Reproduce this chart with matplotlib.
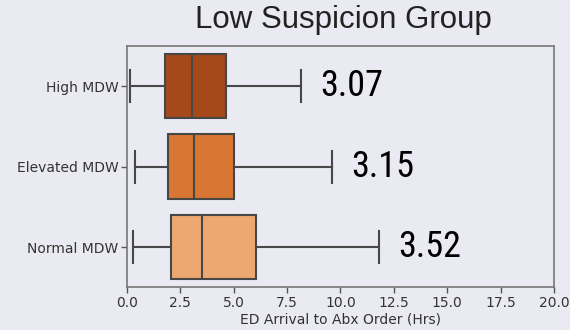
import matplotlib
matplotlib.use("Agg")
import matplotlib.pyplot as plt
from matplotlib import font_manager
from matplotlib.font_manager import FontProperties

categories = ["High MDW", "Elevated MDW", "Normal MDW"]
whislo = [0.17, 0.39, 0.31]
q1 = [1.77, 1.93, 2.06]
med = [3.07, 3.15, 3.52]
q3 = [4.63, 5.04, 6.03]
whishi = [8.16, 9.63, 11.79]
annot = ["3.07", "3.15", "3.52"]
colors = ["#A5481A", "#D97634", "#EDA872"]


def pick_regular(family):
    cands = [f for f in font_manager.fontManager.ttflist
             if f.name == family and f.style == "normal"]
    if not cands:
        return None
    def score(f):
        fn = f.fname.lower()
        s = 0 if "regular" in fn else 1
        if "[" in fn or "wght" in fn:
            s += 2
        w = f.weight if isinstance(f.weight, int) else 400
        return (s, abs(w - 400))
    return sorted(cands, key=score)[0].fname


num_font = None
for fam in ["Roboto Condensed", "PT Sans Narrow", "Archivo Narrow"]:
    p = pick_regular(fam)
    if p:
        num_font = FontProperties(fname=p, size=26)
        break
if num_font is None:
    num_font = FontProperties(family="Liberation Sans", size=24)

fig = plt.figure(figsize=(5.7, 3.3), dpi=100, facecolor="#EAEAF2")
ax = fig.add_axes([0.2223, 0.1294, 0.7497, 0.7312], facecolor="#EAEAF2")

stats = []
for i, c in enumerate(categories):
    stats.append(dict(label=c, whislo=whislo[i], q1=q1[i], med=med[i], q3=q3[i], whishi=whishi[i], fliers=[]))

edge = "#474747"
bp = ax.bxp(stats, positions=range(len(categories)), vert=False, widths=0.8,
            patch_artist=True, showfliers=False, capwidths=0.4,
            boxprops=dict(edgecolor=edge, linewidth=1.5),
            medianprops=dict(color=edge, linewidth=1.5),
            whiskerprops=dict(color=edge, linewidth=1.5),
            capprops=dict(color=edge, linewidth=1.5))
for patch, col in zip(bp["boxes"], colors):
    patch.set_facecolor(col)

ax.set_ylim(2.5, -0.5)
ax.set_xlim(0, 20)
ax.set_xticks([0, 2.5, 5, 7.5, 10, 12.5, 15, 17.5, 20])
ax.set_xticklabels(["0.0", "2.5", "5.0", "7.5", "10.0", "12.5", "15.0", "17.5", "20.0"])
ax.set_yticks(range(len(categories)))
ax.set_yticklabels(categories)
ax.tick_params(axis="both", labelsize=10, colors="#333333", length=4, width=1, color="#555555", pad=2)
for s in ax.spines.values():
    s.set_color("#777777")
    s.set_linewidth(1.2)
ax.set_xlabel("ED Arrival to Abx Order (Hrs)", fontsize=10, color="#333333", labelpad=2)

offsets = [whishi[0] + 0.9, whishi[1] + 0.9, whishi[2] + 0.9]
for i, t in enumerate(annot):
    ax.text(offsets[i], i, t, fontproperties=num_font,
            color="black", va="center", ha="left")

fig.text(0.6026, 0.914, "Low Suspicion Group", fontsize=22.5, family=["Liberation Sans", "DejaVu Sans"],
         color="#222222", ha="center", va="baseline")

fig.savefig("out.png", dpi=100, facecolor=fig.get_facecolor())
